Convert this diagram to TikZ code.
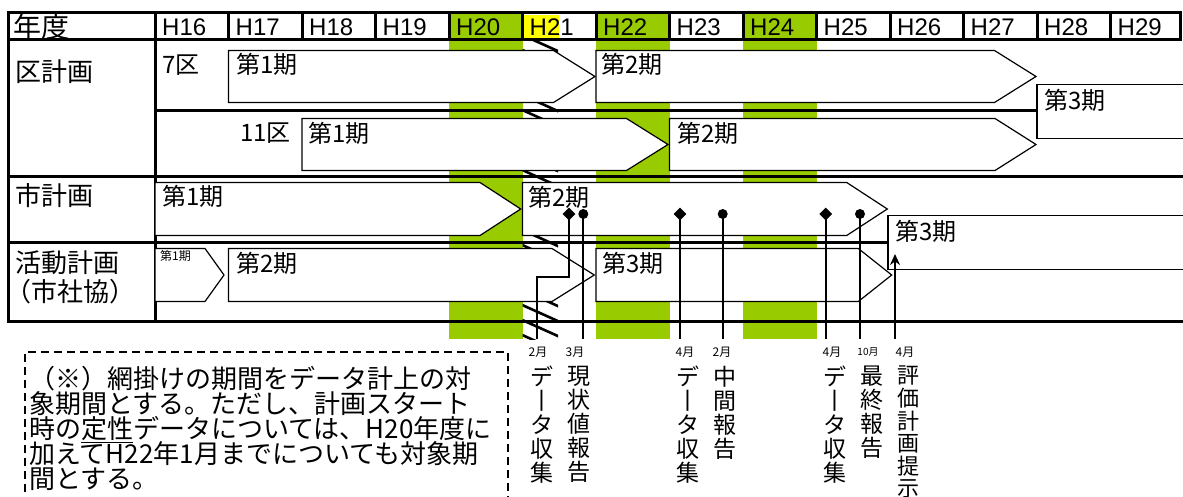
\documentclass[tikz,border=0pt]{standalone}
\usepackage{fontspec}
\setmainfont{Liberation Sans}
\newfontfamily\jp{Noto Sans CJK JP}
\usetikzlibrary{arrows.meta,shapes.geometric}
\definecolor{grn}{RGB}{153,204,0}
\definecolor{ylw}{RGB}{255,255,0}
\newcommand\fs[1]{\fontsize{#1}{#1}\selectfont}
\lineskiplimit=-20pt
\lineskip=0pt
\begin{document}
\begin{tikzpicture}[x=1pt,y=-1pt,
  tline/.style={line width=3pt},
  per/.style={draw, fill=white, line width=1.2pt, line join=miter},
  yr/.style={inner sep=0pt, anchor=base west, font=\fs{24}},
  rowlab/.style={inner sep=0pt, anchor=west, font=\jp\fs{26}},
  plab/.style={inner sep=0pt, anchor=west, font=\jp\fs{24}},
  mon/.style={inner sep=0pt, anchor=center, font=\jp\fs{12}},
  vlab/.style={inner sep=0pt, anchor=north, align=center, font=\jp\fontsize{23}{24}\selectfont},
  mk/.style={line width=2pt},
  dia/.style={diamond, fill=black, inner sep=0pt, minimum size=13pt},
  dot/.style={circle, fill=black, inner sep=0pt, minimum size=10pt},
]
\useasboundingbox (0,0) rectangle (1183,497);
\fill[white] (0,0) rectangle (1183,497);
% green target years
\fill[grn] (449,13) rectangle (522.5,339);
\fill[grn] (596,13) rectangle (669.5,339);
\fill[grn] (743,13) rectangle (816.5,339);
% hatched band
\begin{scope}
  \clip (522.5,40) rectangle (558,339);
  \fill[white] (522.5,40) rectangle (558,339);
  \foreach \y in {10,25,...,360} \draw[line width=2.6pt] (500,\y) -- (580,\y+36);
\end{scope}
% yellow highlight in header
\fill[ylw] (524,15) rectangle (559,39);
% table frame
\draw[tline] (8,13) -- (1180,13);
\draw[tline] (8,40) -- (1180,40);
\draw[tline] (8,11.5) -- (8,322.5);
\draw[tline] (155,11.5) -- (155,322.5);
\draw[tline] (1180,11.5) -- (1180,41.5);
\foreach \k in {1,...,13} \draw[tline] ({155+73.5*\k},13) -- ({155+73.5*\k},40);
\draw[tline] (155,110.7) -- (1037,110.7);
\draw[tline] (8,177) -- (1183,177);
\draw[tline] (8,242.5) -- (890,242.5);
\draw[tline] (8,321) -- (1183,321);
% period arrows
\draw[per] (228.5,50.5) -- (553.5,50.5) -- (595,76.5) -- (553.5,102.5) -- (228.5,102.5) -- cycle;
\draw[per] (596,50.5) -- (994.5,50.5) -- (1036,76.5) -- (994.5,102.5) -- (596,102.5) -- cycle;
\draw[per] (302,118.5) -- (626.5,118.5) -- (668,144.5) -- (626.5,170.5) -- (302,170.5) -- cycle;
\draw[per] (669.5,118.5) -- (995,118.5) -- (1036,144.5) -- (995,170.5) -- (669.5,170.5) -- cycle;
\draw[per] (1037,84.5) rectangle (1195,138.5);
\draw[per] (155,182.5) -- (480,182.5) -- (520.7,209) -- (480,235.5) -- (155,235.5) -- cycle;
\draw[per] (522.5,182.5) -- (846.7,182.5) -- (887.3,209) -- (846.7,235.5) -- (522.5,235.5) -- cycle;
\draw[per] (888,215.7) rectangle (1195,269.3);
\draw[per] (155,248.5) -- (205,248.5) -- (224,275) -- (205,301.5) -- (155,301.5) -- cycle;
\draw[per] (228.5,248.5) -- (552,248.5) -- (594.3,275) -- (552,301.5) -- (228.5,301.5) -- cycle;
\draw[per] (596,248.5) -- (858.3,248.5) -- (891.7,275) -- (858.3,301.5) -- (596,301.5) -- cycle;
% header texts
\node[rowlab, font=\jp\fs{28}] (nendo) at (13,27) {年度};
\foreach \k/\t in {0/H16,1/H17,2/H18,3/H19,4/H20,5/H21,6/H22,7/H23,8/H24,9/H25,10/H26,11/H27,12/H28,13/H29}
  \node[yr] (yr\k) at ({155+73.5*\k+7},36) {\t};
% row labels
\node[rowlab] (ku) at (15,72) {区計画};
\node[rowlab] (shi) at (15,196) {市計画};
\node[rowlab] (kat) at (15,263) {活動計画};
\node[rowlab] (kat2) at (5,292) {（市社協）};
% period labels
\node[plab] (k7) at (162,65) {7区};
\node[plab, anchor=east] (k11) at (291,133) {11区};
\node[plab] (p71) at (236,64) {第1期};
\node[plab] (p72) at (601,64) {第2期};
\node[plab] (p111) at (308,133) {第1期};
\node[plab] (p112) at (677,133) {第2期};
\node[plab] (pk3) at (1044,100) {第3期};
\node[plab] (ps1) at (162,196) {第1期};
\node[plab] (ps2) at (528,197) {第2期};
\node[plab] (ps3) at (895,231) {第3期};
\node[plab, font=\jp\fs{12}] (pa1) at (160,256) {第1期};
\node[plab] (pa2) at (236,263) {第2期};
\node[plab] (pa3) at (602,263) {第3期};
% markers
\node[dia] (m1) at (569,214) {};
\node[dot] (m2) at (583.3,214) {};
\node[dia] (m3) at (680,214) {};
\node[dot] (m4) at (722.7,214) {};
\node[dia] (m5) at (825.7,214) {};
\node[dot] (m6) at (860,214) {};
\coordinate (e1) at (537.3,339);
\coordinate (e2) at (583.3,339);
\coordinate (e3) at (680,339);
\coordinate (e4) at (722.7,339);
\coordinate (e5) at (825.7,339);
\coordinate (e6) at (860,339);
\coordinate (e7) at (895,339);
\coordinate (a7) at (895,254);
\draw[mk] (m1.center) -- (569,277) -- (537.3,277) -- (e1);
\draw[mk] (m2.center) -- (e2);
\draw[mk] (m3.center) -- (e3);
\draw[mk] (m4.center) -- (e4);
\draw[mk] (m5.center) -- (e5);
\draw[mk] (m6.center) -- (e6);
\draw[mk, -{Stealth[length=11pt,width=10pt]}] (e7) -- (a7);
% month labels
\node[mon] (mo1) at (538,352) {2月};
\node[mon] (mo2) at (575,352) {3月};
\node[mon] (mo3) at (685,352) {4月};
\node[mon] (mo4) at (722,352) {2月};
\node[mon] (mo5) at (832,352) {4月};
\node[mon, font=\jp\fs{10}] (mo6) at (868,352) {10月};
\node[mon] (mo7) at (905,352) {4月};
% vertical labels
\node[vlab] (v1) at (542,366) {デ\\丨\\タ\\収\\集};
\node[vlab] (v2) at (579,366) {現\\状\\値\\報\\告};
\node[vlab] (v3) at (688,366) {デ\\丨\\タ\\収\\集};
\node[vlab] (v4) at (725,366) {中\\間\\報\\告};
\node[vlab] (v5) at (835,366) {デ\\丨\\タ\\収\\集};
\node[vlab] (v6) at (872,366) {最\\終\\報\\告};
\node[vlab, font=\jp\fontsize{22}{22.6}\selectfont] (v7) at (908,366) {評\\価\\計\\画\\提\\示};
% note
\draw[line width=1.5pt, dash pattern=on 8pt off 5pt] (25,505) -- (25,352) -- (508,352) -- (508,505);
\node[inner sep=0pt, anchor=north west, align=left, font=\jp\fontsize{26}{25}\selectfont] (note) at (29,366)
 {（※）網掛けの期間をデータ計上の対\\象期間とする。ただし、計画スタート\\時の\underline{定性}データについては、H20年度に\\加えてH22年1月までについても対象期\\間とする。};
\end{tikzpicture}
\end{document}
